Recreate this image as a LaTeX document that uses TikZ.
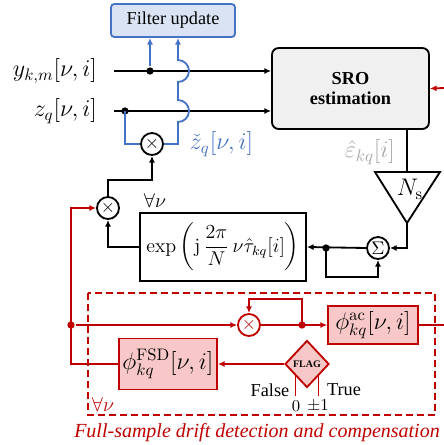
\documentclass[tikz,border=0pt,11pt]{standalone}
\usepackage{amsmath,amssymb}
\usepackage[no-math]{fontspec}
\setmainfont{Liberation Serif}
\usetikzlibrary{arrows.meta,shapes.geometric}

\definecolor{fblue}{HTML}{4472C4}
\definecolor{fbluefill}{HTML}{DAE3F3}
\definecolor{fred}{HTML}{C00000}
\definecolor{fredfill}{HTML}{F8C8C8}
\definecolor{srogray}{HTML}{F0F0F0}
\definecolor{epsgray}{HTML}{A6A6A6}

\begin{document}
\begin{tikzpicture}[x=0.6pt, y=-0.6pt, line width=1.1pt,
  >={Latex[length=4pt,width=3.6pt]},
  box/.style={draw, rectangle, inner sep=0pt},
  redbox/.style={box, draw=fred, fill=fredfill, font=\Large},
  mult/.style={draw, circle, minimum size=13.2pt, inner sep=0pt},
  dot/.style={circle, fill, minimum size=4.4pt, inner sep=0pt}]
  \useasboundingbox (0,0) rectangle (444,445);
  % blocks
  \node[box, draw=fblue, fill=fbluefill, rounded corners=2pt, minimum width=74.4pt, minimum height=19.8pt] (filt) at (173,20.5) {Filter update};
  \node[box, fill=srogray, rounded corners=4pt, minimum width=94.2pt, minimum height=48.6pt, align=center, font=\bfseries] (sro) at (350.5,88.5) {SRO\\[-2pt]estimation};
  \node[box, minimum width=99.6pt, minimum height=40.8pt, font=\large] (expb) at (223,247) {$\exp\left(\mathrm{j}\,\dfrac{2\pi}{N}\,\nu\hat{\tau}_{kq}[i]\right)$};
  \node[redbox, minimum width=54pt, minimum height=22.8pt] (phiac) at (373,325) {$\phi^{\mathrm{ac}}_{kq}[\nu,i]$};
  \node[redbox, minimum width=58.8pt, minimum height=30.6pt] (phifsd) at (168,364) {$\phi^{\mathrm{FSD}}_{kq}[\nu,i]$};
  \node[diamond, draw=fred, fill=fredfill, minimum width=26.4pt, minimum height=28.2pt, inner sep=0pt] (flag) at (307,364) {};
  \node[font=\fontsize{6}{7}\selectfont\bfseries] (flagtxt) at (flag) {FLAG};
  % multipliers
  \node[mult] (m1) at (152,144) {$\times$};
  \node[mult] (m2) at (108,208) {$\times$};
  \node[mult] (sum) at (378,248) {$\Sigma$};
  \node[mult, draw=fred, text=fred] (mr) at (249,325) {$\times$};
  % gain
  \coordinate (tl) at (375,172);
  \coordinate (tr) at (440,172);
  \coordinate (tap) at (407,223);
  \draw (tl) -- (tr) -- (tap) -- cycle;
  \node[font=\Large] (ns) at (410,189) {$N_{\mathrm{s}}$};
  % labels
  \node[anchor=east, font=\Large] (ylab) at (104,71) {$y_{k,m}[\nu,i]$};
  \node[anchor=east, font=\Large] (zlab) at (104,111) {$z_q[\nu,i]$};
  \node[anchor=west, text=fblue, font=\Large] (ztlab) at (183,144) {$\check{z}_q[\nu,i]$};
  \node[anchor=east, text=epsgray, font=\Large] (epslab) at (402,152) {$\hat{\varepsilon}_{kq}[i]$};
  \node[font=\large] (fa1) at (155,201) {$\forall\nu$};
  \node[font=\large, text=fred] (fa2) at (103,405) {$\forall\nu$};
  \node (false) at (270,390) {False};
  \node (true) at (344,390) {True};
  \node[font=\small] (zero) at (296,406) {$0$};
  \node[font=\small] (pm) at (318,406) {$\pm1$};
  \node[text=fred, font=\large\itshape] (cap) at (257,433) {Full-sample drift detection and compensation};
  % inputs
  \coordinate (ys) at (114,71);
  \coordinate (zs) at (114,111);
  \node[dot] (d1) at (150,71) {};
  \node[dot] (d2) at (125,111) {};
  \draw[->] (ys) -- (ys -| sro.west);
  \draw[->] (zs) -- (zs -| sro.west);
  % blue paths
  \coordinate (hop) at (178,144);
  \draw[fblue, ->] (d1) -- (d1 |- filt.south);
  \draw[fblue] (d2.center) |- (m1.west);
  \draw[fblue, ->] (m1.east) -- (hop) -- (178,122) arc[start angle=90, end angle=-90, radius=11]
    -- (178,82) arc[start angle=90, end angle=-90, radius=11] -- (hop |- filt.south);
  % feedback
  \node[dot] (d3) at (326,248) {};
  \draw (sro.south -| tap) -- (tap |- tl);
  \draw[->] (tap) |- (sum.east);
  \draw[->] (sum.west) -- (expb.east);
  \draw[->] (d3.center) -- (326,277) -| (sum.south);
  \draw[->] (expb.west) -| (m2.south);
  \draw[->] (m2.north) -- ++(0,-16) -| (m1.south);
  % red part
  \draw[fred, dashed, line width=0.9pt, dash pattern=on 4pt off 2.6pt] (88,293) rectangle (435,415);
  \node[dot, fred] (d4) at (71,325) {};
  \node[dot, fred] (d5) at (302,325) {};
  \draw[fred, ->] (444,88) -- (sro.east);
  \draw[fred, ->] (flag.west) -- (phifsd.east);
  \draw[fred, ->] (phifsd.west) -| (d4.center) |- (m2.west);
  \draw[fred, ->] (d4) -- (mr.west);
  \draw[fred, ->] (mr.east) -- (phiac.west);
  \draw[fred, ->] (d5.center) -- (302,299) -| (mr.north);
  \draw[fred] (phiac.east) -- (444,325);
  \draw[fred] (flag.south west) -- ++(0,20);
  \draw[fred] (flag.south east) -- ++(0,20);
\end{tikzpicture}
\end{document}
